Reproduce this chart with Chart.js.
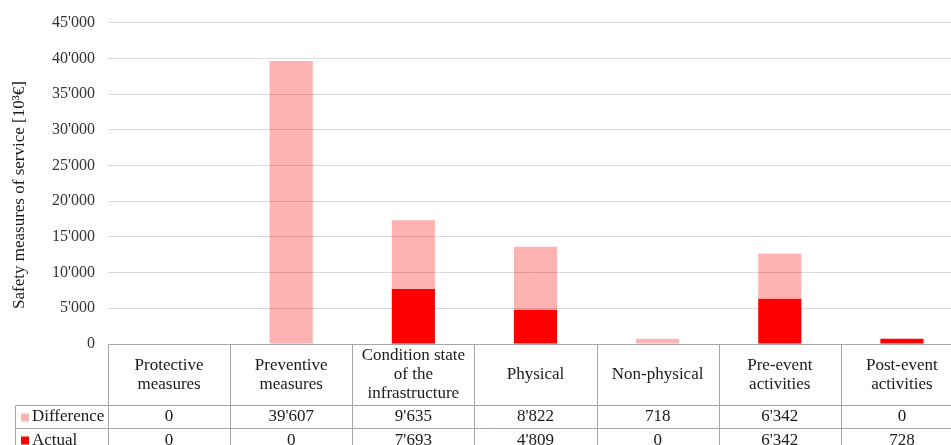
<!DOCTYPE html>
<html>
<head>
<meta charset="utf-8">
<script src="https://cdn.jsdelivr.net/npm/chart.js@4.4.1/dist/chart.umd.min.js"></script>
<style>
  html, body { margin: 0; padding: 0; background: #ffffff; overflow: hidden; }
  #wrap { width: 951px; height: 445px; overflow: hidden; position: relative; }
  #chart { display: block; }
</style>
</head>
<body>
<div id="wrap"><canvas id="chart" width="963" height="445"></canvas></div>
<script>
// Chart data
const categories = [
  ['Protective', 'measures'],
  ['Preventive', 'measures'],
  ['Condition state', 'of the', 'infrastructure'],
  ['Physical'],
  ['Non-physical'],
  ['Pre-event', 'activities'],
  ['Post-event', 'activities']
];
const differenceValues = [0, 39607, 9635, 8822, 718, 6342, 0];
const actualValues = [0, 0, 7693, 4809, 0, 6342, 728];
const yTicks = [0, 5000, 10000, 15000, 20000, 25000, 30000, 35000, 40000, 45000];

const FONT = '"Liberation Serif", "Times New Roman", serif';
const pinkColor = 'rgba(255, 0, 0, 0.3)';
const redColor = '#ff0000';
const borderGray = '#a6a6a6';

// Number with apostrophe thousand separator (e.g. 39'607)
function fmt(v) {
    return String(v).replace(/\B(?=(\d{3})+(?!\d))/g, "'");
}

// Plugin drawing the data table under the plot and the y axis title
const dataTablePlugin = {
    id: 'dataTable',
    afterDraw(chart) {
        const ctx = chart.ctx;
        const xScale = chart.scales.x;
        const area = chart.chartArea;
        const n = categories.length;
        const step = (area.right - area.left) / n;
        const top = Math.round(area.bottom) + 0.5;
        const headerBottom = top + 61;
        const row1Bottom = headerBottom + 23;
        const legendLeft = 15.5;
        const bottom = chart.height + 5;

        ctx.save();
        ctx.strokeStyle = borderGray;
        ctx.lineWidth = 1;

        // horizontal lines
        ctx.beginPath();
        ctx.moveTo(area.left, top);
        ctx.lineTo(area.right, top);
        ctx.moveTo(legendLeft, headerBottom);
        ctx.lineTo(area.right, headerBottom);
        ctx.moveTo(legendLeft, row1Bottom);
        ctx.lineTo(area.right, row1Bottom);
        ctx.stroke();

        // vertical lines
        ctx.beginPath();
        for (let i = 0; i <= n; i++) {
            const x = Math.round(area.left + i * step) + 0.5;
            ctx.moveTo(x, top);
            ctx.lineTo(x, bottom);
        }
        ctx.moveTo(legendLeft, headerBottom);
        ctx.lineTo(legendLeft, bottom);
        ctx.stroke();

        // header labels and values
        ctx.fillStyle = '#1a1a1a';
        ctx.font = '17px ' + FONT;
        ctx.textAlign = 'center';
        ctx.textBaseline = 'middle';
        const lineH = 19;
        const headerMid = (top + headerBottom) / 2;
        categories.forEach((lines, i) => {
            const cx = xScale.getPixelForValue(i);
            const y0 = headerMid - (lines.length - 1) * lineH / 2;
            lines.forEach((t, j) => ctx.fillText(t, cx, y0 + j * lineH));
            ctx.fillText(fmt(differenceValues[i]), cx, (headerBottom + row1Bottom) / 2);
            ctx.fillText(fmt(actualValues[i]), cx, row1Bottom + 12);
        });

        // legend column
        ctx.textAlign = 'left';
        ctx.fillStyle = pinkColor;
        ctx.fillRect(21, headerBottom + 8, 8, 8);
        ctx.fillStyle = redColor;
        ctx.fillRect(21, row1Bottom + 8, 8, 8);
        ctx.fillStyle = '#1a1a1a';
        ctx.fillText('Difference', 32, (headerBottom + row1Bottom) / 2);
        ctx.fillText('Actual', 32, row1Bottom + 12);

        // y axis title
        ctx.translate(20, 195);
        ctx.rotate(-Math.PI / 2);
        ctx.textAlign = 'center';
        ctx.font = '17px ' + FONT;
        ctx.fillText('Safety measures of service [10³€]', 0, 0);
        ctx.restore();
    }
};

const ctx = document.getElementById('chart').getContext('2d');
const chart = new Chart(ctx, {
    type: 'bar',
    data: {
        labels: categories.map(c => c.join(' ')),
        datasets: [
            {
                label: 'Actual',
                data: actualValues,
                backgroundColor: redColor,
                barPercentage: 0.353,
                categoryPercentage: 1
            },
            {
                label: 'Difference',
                data: differenceValues,
                backgroundColor: pinkColor,
                barPercentage: 0.353,
                categoryPercentage: 1
            }
        ]
    },
    options: {
        responsive: false,
        devicePixelRatio: 1,
        animation: false,
        layout: {
            padding: { top: 22, bottom: 101, left: 0, right: 0 }
        },
        plugins: {
            legend: { display: false },
            tooltip: { enabled: false }
        },
        scales: {
            x: {
                display: false,
                stacked: true
            },
            y: {
                stacked: true,
                min: 0,
                max: 45000,
                afterBuildTicks: function(scale) {
                    scale.ticks = yTicks.map(v => ({ value: v }));
                },
                afterFit: function(scale) {
                    scale.width = 108;
                },
                ticks: {
                    padding: 13,
                    color: '#333333',
                    font: { family: FONT, size: 16 },
                    callback: function(value) {
                        return fmt(value);
                    }
                },
                grid: {
                    color: function(c) {
                        return c.tick && c.tick.value === 0 ? 'rgba(0,0,0,0)' : '#d9d9d9';
                    },
                    drawTicks: false
                },
                border: { display: false }
            }
        }
    },
    plugins: [dataTablePlugin]
});
</script>
</body>
</html>
